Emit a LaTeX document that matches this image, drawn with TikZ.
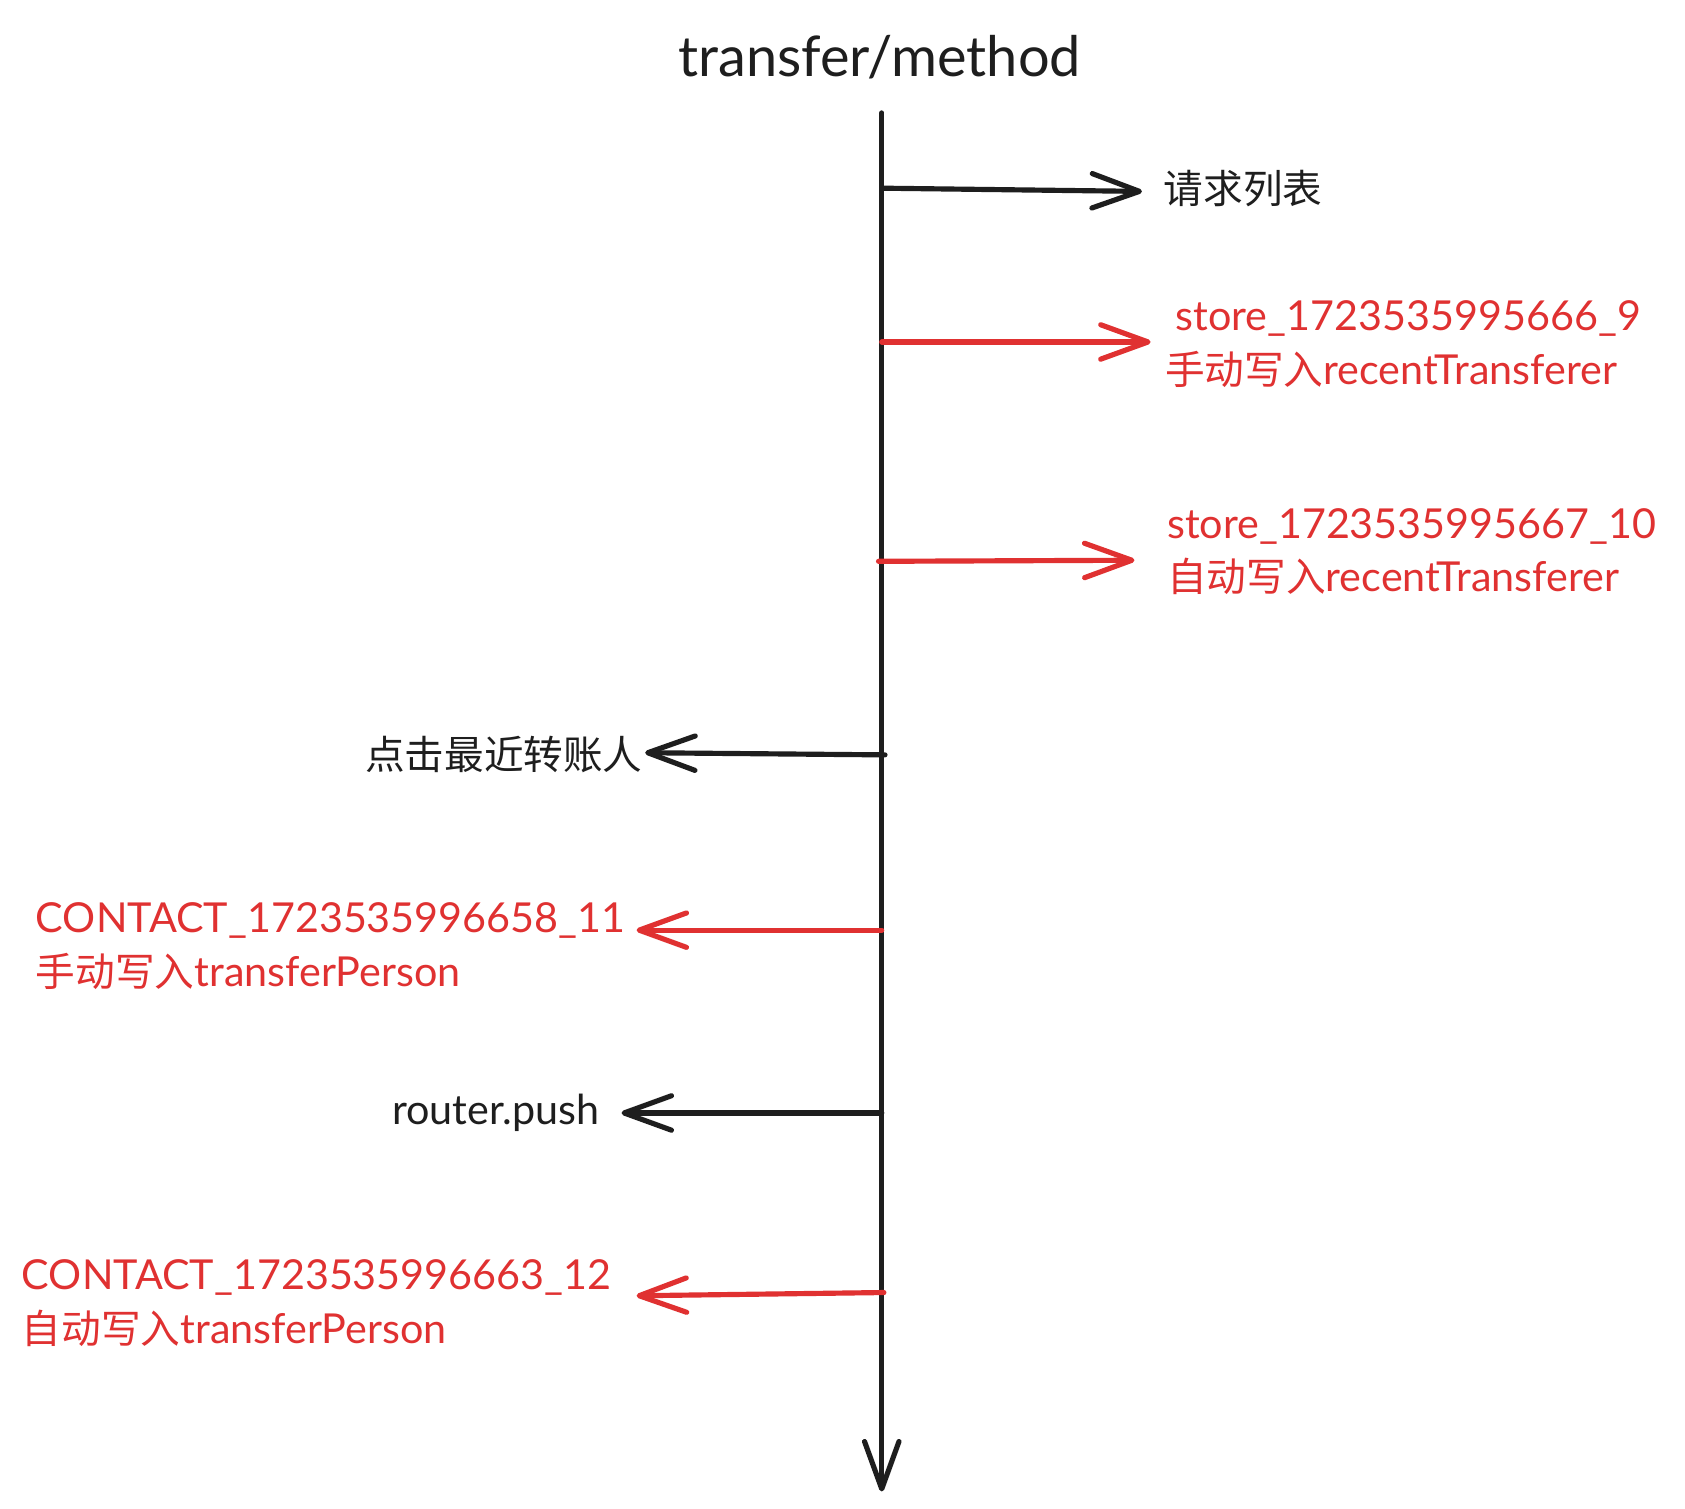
\documentclass[tikz,border=0pt]{standalone}
\usepackage{fontspec}
\setmainfont{Lato}
\newfontfamily\cjk[Scale=0.96]{Noto Sans CJK SC}
\usetikzlibrary{arrows.meta}
\definecolor{ink}{HTML}{1E1E1E}
\definecolor{redink}{HTML}{E03131}
\begin{document}
\begin{tikzpicture}[x=0.5pt,y=-0.5pt,
  conn/.style={line width=2.4pt,line cap=round,-{Straight Barb[length=22pt,width=16pt,round]}},
  blk/.style={conn,draw=ink},
  rd/.style={conn,draw=redink},
  lbl/.style={inner sep=0pt,font=\fontsize{19.2}{25}\selectfont,align=left},
  blklbl/.style={lbl,text=ink},
  rdlbl/.style={lbl,text=redink},
  title/.style={inner sep=0pt,font=\fontsize{26}{30}\selectfont,text=ink}]
\useasboundingbox (0,0) rectangle (1567,1403);
\fill[white] (0,0) rectangle (1567,1403);

% title
\node[title] (ttl) at (818,53) {transfer/method};

% spine
\coordinate (top) at (820,105);
\coordinate (bot) at (820,1387);
\draw[blk] (top) -- (bot);

% branch points on the spine
\coordinate (s1) at (820,175);
\coordinate (s2) at (820,318);
\coordinate (s3) at (817,522);
\coordinate (s4) at (823,702);
\coordinate (s5) at (820,865);
\coordinate (s6) at (820,1035);
\coordinate (s7) at (822,1202);

% arrow ends
\coordinate (e1) at (1062,178);
\coordinate (e2) at (1070,318);
\coordinate (e3) at (1055,521);
\coordinate (e4) at (600,700);
\coordinate (e5) at (592,865);
\coordinate (e6) at (578,1035);
\coordinate (e7) at (592,1205);

% labels
\node[blklbl,anchor=west] (l1) at (1082,175) {{\cjk 请求列表}};
\node[rdlbl,anchor=west] (l2) at (1083,320) {\hspace{5pt}store\_1723535995666\_9\\{\cjk 手动写入}recentTransferer};
\node[rdlbl,anchor=west] (l3) at (1085,513) {store\_1723535995667\_10\\{\cjk 自动写入}recentTransferer};
\node[blklbl,anchor=east] (l4) at (598,702) {{\cjk 点击最近转账人}};
\node[rdlbl,anchor=west] (l5) at (33,880) {CONTACT\_1723535996658\_11\\{\cjk 手动写入}transferPerson};
\node[blklbl,anchor=east] (l6) at (558,1035) {router.push};
\node[rdlbl,anchor=west] (l7) at (20,1212) {CONTACT\_1723535996663\_12\\{\cjk 自动写入}transferPerson};

% connectors
\draw[blk] (s1) -- (e1);
\draw[rd] (s2) -- (e2);
\draw[rd] (s3) -- (e3);
\draw[blk] (s4) -- (e4);
\draw[rd] (s5) -- (e5);
\draw[blk] (s6) -- (e6);
\draw[rd] (s7) -- (e7);
\end{tikzpicture}
\end{document}
